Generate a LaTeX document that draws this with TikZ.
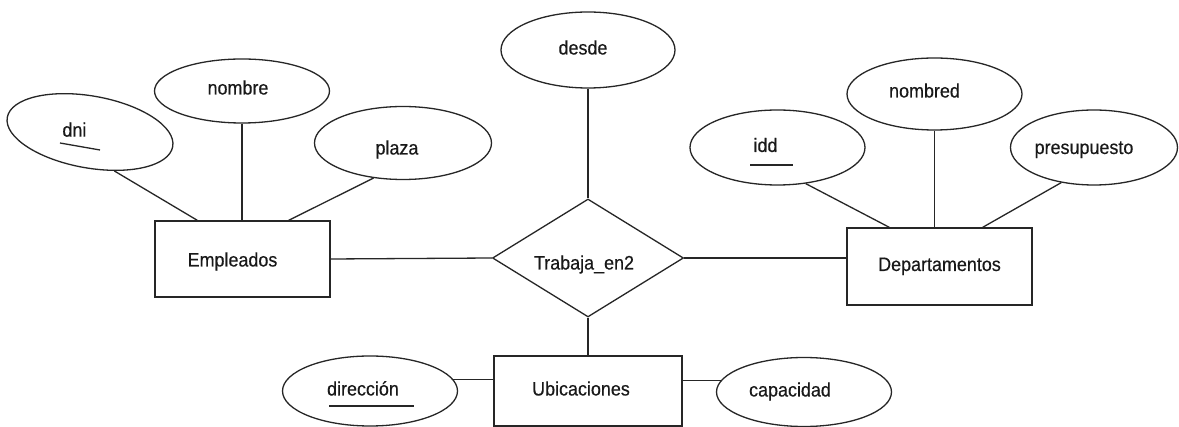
\documentclass[tikz,border=0pt]{standalone}
\usepackage{fontspec}
\setmainfont{Liberation Sans}[FakeStretch=0.92,FakeBold=0.4]
\usetikzlibrary{shapes.geometric,calc}
% text set off-centre inside its shape: #1 = twice the horizontal shift, #2 = raise
\newcommand\shiftedtext[3]{\makebox[0pt]{\hspace*{#1pt}\raisebox{#2pt}{#3}}}

\begin{document}
\begin{tikzpicture}[x=1pt,y=-1pt,
  every node/.style={font=\fontsize{19.5}{22}\selectfont, text=black!90,
    text height=13pt, text depth=4pt, inner sep=0pt},
  ink/.style={draw=black!85, line width=1.3pt},
  entity/.style={ink, rectangle},
  attr/.style={ink, ellipse},
  relship/.style={ink, diamond},
  link/.style={draw=black!85, line width=1.3pt},
  keyline/.style={draw=black!85, line width=1.3pt}]

\fill[white] (0,0) rectangle (1179,427);
\useasboundingbox (0,0) rectangle (1179,427);

% entities
\node[entity, minimum width=175pt, minimum height=76pt] (emp) at (242.5,259)
  {\shiftedtext{-20}{-3}{Empleados}};
\node[entity, minimum width=185pt, minimum height=77pt] (dep) at (939.5,266.5)
  {Departamentos};
\node[entity, minimum width=188pt, minimum height=70pt] (ubi) at (588,391)
  {\shiftedtext{-14}{0}{Ubicaciones}};

% relationship
\node[relship, minimum width=191pt, minimum height=118pt] (trab) at (588,258)
  {\shiftedtext{-8}{-7}{Trabaja\_en2}};

% attributes
\node[attr, minimum width=168pt, minimum height=72pt, rotate=-10] (dni) at (90,132)
  {\rotatebox{10}{\shiftedtext{-32}{0}{dni}}};
\node[attr, minimum width=175pt, minimum height=64pt] (nombre) at (242,91)
  {\shiftedtext{-8}{1}{nombre}};
\node[attr, minimum width=177pt, minimum height=73pt] (plaza) at (403,143)
  {\shiftedtext{-12}{-7}{plaza}};
\node[attr, minimum width=174pt, minimum height=76pt] (desde) at (588,50)
  {\shiftedtext{-10}{0}{desde}};
\node[attr, minimum width=175pt, minimum height=75pt] (idd) at (777.5,147.5)
  {\shiftedtext{-24}{0}{idd}};
\node[attr, minimum width=175pt, minimum height=72pt] (nombred) at (934.5,94)
  {\shiftedtext{-20}{1}{nombred}};
\node[attr, minimum width=167pt, minimum height=75pt] (presup) at (1094,147.5)
  {\shiftedtext{-20}{-2}{presupuesto}};
\node[attr, minimum width=175pt, minimum height=70pt] (dir) at (370,391)
  {\shiftedtext{-14}{0}{dirección}};
\node[attr, minimum width=175pt, minimum height=69pt] (cap) at (804,392)
  {\shiftedtext{-28}{0}{capacidad}};

% key attributes are underlined
\draw[keyline] ($(dni.center)+(-30,11)$) -- ++(40,7);
\draw[keyline] ($(idd.center)+(-27.5,17.5)$) -- ++(43,0);
\draw[keyline] ($(dir.center)+(-41,15)$) -- ++(85,0);

% attribute links
\draw[link] (dni.-48) -- ($(emp.north west)+(43,0)$);
\draw[link] (nombre.south) -- (nombre.south |- emp.north);
\draw[link] (plaza.-130) -- ($(emp.north east)+(-42,0)$);
\draw[link] (idd.-52) -- ($(dep.north west)+(43,0)$);
\draw[link] (nombred.south) -- (nombred.south |- dep.north);
\draw[link] (presup.-133) -- ($(dep.north east)+(-50,0)$);
\draw[link] (desde) -- (trab);
\draw[link] (dir.8) -- (dir.8 -| ubi.west);
\draw[link] (cap.172) -- (cap.172 -| ubi.east);

% relationship links
\draw[link] (emp.east) -- (trab.west);
\draw[link] (trab.east) -- (trab.east -| dep.west);
\draw[link] (trab) -- (ubi);
\end{tikzpicture}
\end{document}
